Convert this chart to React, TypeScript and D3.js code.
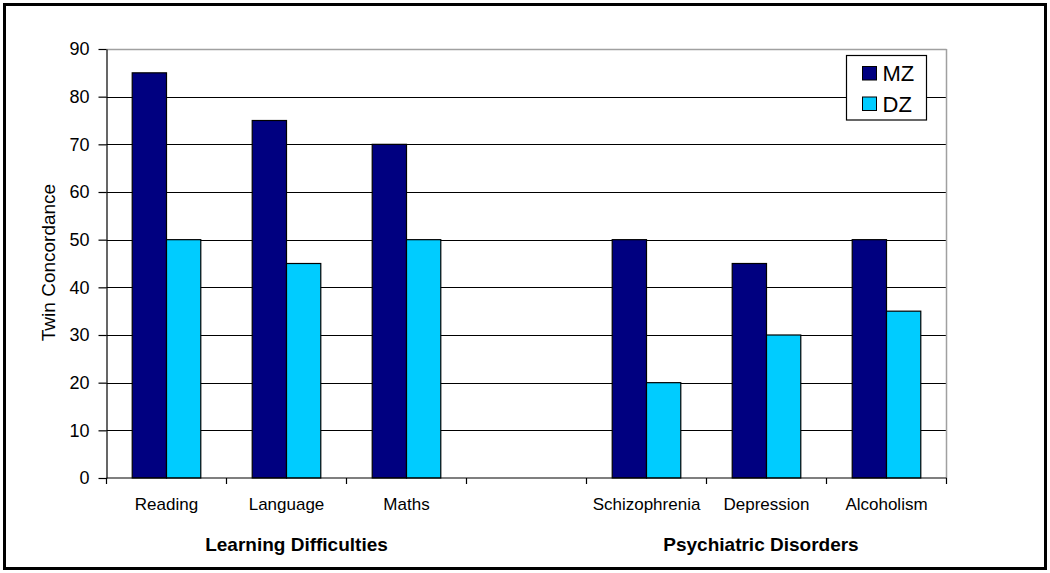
import React, { useEffect, useRef } from 'react';
import * as d3 from 'd3';

// chart data
const categories = ['Reading', 'Language', 'Maths', '', 'Schizophrenia', 'Depression', 'Alcoholism'];
const series = ['MZ', 'DZ'];
const mzValues = [85, 75, 70, null, 50, 45, 50];
const dzValues = [50, 45, 50, null, 20, 30, 35];
const yTicks = [0, 10, 20, 30, 40, 50, 60, 70, 80, 90];
const groups = ['Learning Difficulties', 'Psychiatric Disorders'];
const groupFirst = [0, 4];
const colors = ['#000080', '#00CCFF'];

export default function App() {
    const ref = useRef<SVGSVGElement>(null);

    useEffect(() => {
        const width = 1050;
        const height = 573;
        const left = 106.5;
        const right = 946.5;
        const top = 49;
        const bottom = 478;
        const font = 'Liberation Sans, Arial, sans-serif';

        const svg = d3.select(ref.current);
        svg.selectAll('*').remove();

        // outer frame
        svg.append('rect')
            .attr('x', 4.5).attr('y', 4.5)
            .attr('width', width - 9).attr('height', height - 9)
            .attr('fill', 'white')
            .attr('stroke', 'black')
            .attr('stroke-width', 3);

        const x = d3.scaleBand<number>()
            .domain(d3.range(categories.length))
            .range([left, right]);

        // bars are 1/(2 + 1.5) of the category, Excel style 150% gap
        const barW = x.bandwidth() / 3.5;
        const gap = barW * 0.75;

        const y = d3.scaleLinear().domain([0, 90]).range([bottom, top]);

        // gridlines
        svg.append('g')
            .selectAll('line')
            .data(yTicks.filter(t => t > 0))
            .enter()
            .append('line')
            .attr('x1', left).attr('x2', right)
            .attr('y1', d => Math.round(y(d)) + 0.5)
            .attr('y2', d => Math.round(y(d)) + 0.5)
            .attr('stroke', d => d === 90 ? '#a0a0a0' : 'black')
            .attr('stroke-width', d => d === 90 ? 1.5 : 1.2);

        // right border of the plot area
        svg.append('line')
            .attr('x1', right).attr('x2', right)
            .attr('y1', top).attr('y2', bottom)
            .attr('stroke', '#a0a0a0')
            .attr('stroke-width', 1.5);

        // bars
        const vals = [mzValues, dzValues];
        vals.forEach((arr, s) => {
            svg.append('g')
                .selectAll('rect')
                .data(arr.map((v, i) => ({ v, i })).filter(d => d.v !== null))
                .enter()
                .append('rect')
                .attr('x', d => (x(d.i) as number) + gap + s * barW)
                .attr('y', d => y(d.v as number))
                .attr('width', barW)
                .attr('height', d => bottom - y(d.v as number))
                .attr('fill', colors[s])
                .attr('stroke', 'black')
                .attr('stroke-width', 1.2);
        });

        // y axis
        const yAxis = svg.append('g')
            .attr('transform', `translate(${left}, 0)`)
            .call(d3.axisLeft(y).tickValues(yTicks).tickSize(8).tickPadding(9).tickSizeOuter(0));
        yAxis.select('.domain').attr('stroke', 'black').attr('stroke-width', 1.2);
        yAxis.selectAll('.tick line').attr('stroke-width', 1.2);
        yAxis.selectAll('.tick text')
            .style('font-size', '18px')
            .style('font-family', font)
            .attr('fill', 'black');

        // x axis with ticks at category boundaries
        svg.append('line')
            .attr('x1', left).attr('x2', right)
            .attr('y1', bottom).attr('y2', bottom)
            .attr('stroke', 'black').attr('stroke-width', 1.2);
        svg.append('g')
            .selectAll('line')
            .data(d3.range(categories.length + 1))
            .enter()
            .append('line')
            .attr('x1', d => left + d * x.step())
            .attr('x2', d => left + d * x.step())
            .attr('y1', bottom).attr('y2', bottom + 6)
            .attr('stroke', 'black').attr('stroke-width', 1.2);

        svg.append('g')
            .selectAll('text')
            .data(categories)
            .enter()
            .append('text')
            .attr('x', (d, i) => (x(i) as number) + x.bandwidth() / 2)
            .attr('y', 510)
            .attr('text-anchor', 'middle')
            .style('font-size', '17px')
            .style('font-family', font)
            .text(d => d);

        // group labels (text boxes sit a bit off the group centre in the original)
        const groupShift = [10, -5.5];
        svg.append('g')
            .selectAll('text')
            .data(groups)
            .enter()
            .append('text')
            .attr('x', (d, i) => (x(groupFirst[i] + 1) as number) + x.bandwidth() / 2 + groupShift[i])
            .attr('y', 551)
            .attr('text-anchor', 'middle')
            .style('font-size', '19px')
            .style('font-weight', 'bold')
            .style('font-family', font)
            .text(d => d);

        // y axis title
        svg.append('text')
            .attr('transform', `translate(55, ${(top + bottom) / 2 - 1}) rotate(-90)`)
            .attr('text-anchor', 'middle')
            .style('font-size', '19px')
            .style('font-family', font)
            .text('Twin Concordance');

        // legend
        const lg = svg.append('g').attr('transform', 'translate(846.5, 55.5)');
        lg.append('rect')
            .attr('width', 80).attr('height', 64.5)
            .attr('fill', 'white')
            .attr('stroke', 'black')
            .attr('stroke-width', 1.2);
        series.forEach((name, i) => {
            lg.append('rect')
                .attr('x', 16).attr('y', 11 + i * 30.5)
                .attr('width', 14).attr('height', 13.5)
                .attr('fill', colors[i])
                .attr('stroke', 'black')
                .attr('stroke-width', 1);
            lg.append('text')
                .attr('x', 36).attr('y', 25.5 + i * 31)
                .style('font-size', '22px')
                .style('font-family', font)
                .text(name);
        });
    }, []);

    return (
        <div style={{ position: 'absolute', left: 0, top: 0 }}>
            <svg ref={ref} width={1050} height={573}></svg>
        </div>
    );
}
